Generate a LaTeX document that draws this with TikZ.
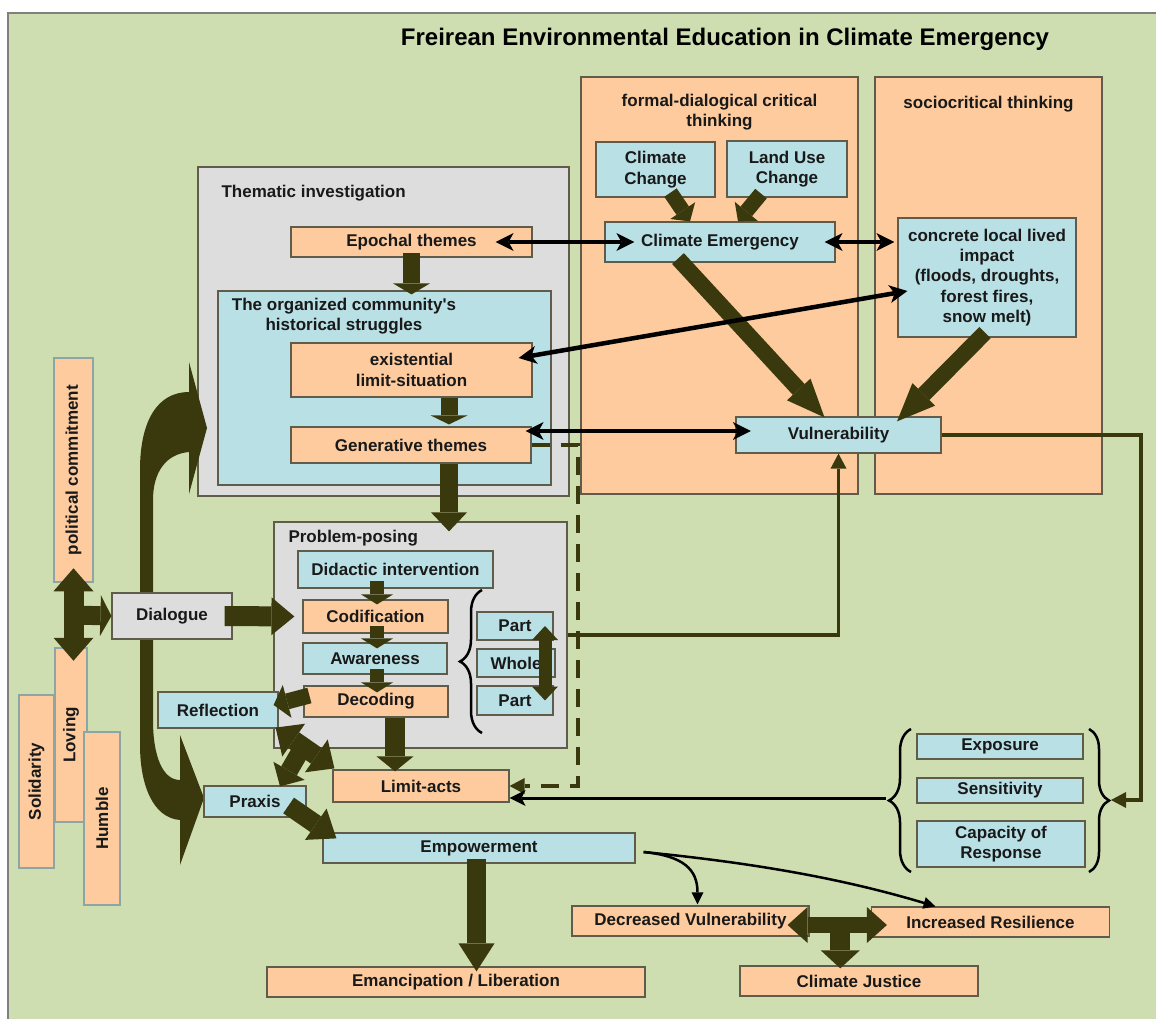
\documentclass[tikz,border=0pt]{standalone}
\usepackage{fontspec}
\setmainfont{Liberation Sans}
\usepackage{graphicx}
\usepackage{xcolor}
\usepackage{tikz}
\usetikzlibrary{arrows.meta, positioning, calc, decorations.pathreplacing}

\definecolor{bggreen}{RGB}{207,222,176}
\definecolor{boxorange}{RGB}{253,203,158}
\definecolor{boxblue}{RGB}{185,224,229}
\definecolor{boxgray}{RGB}{221,221,221}
\definecolor{edgegray}{RGB}{95,92,75}
\definecolor{olive}{RGB}{58,57,14}
\definecolor{pillaredge}{RGB}{140,165,165}

\begin{document}
\begin{tikzpicture}[x=1pt, y=-1pt,
    txt/.style={font=\fontsize{17}{20.3}\selectfont\bfseries, text=black!90},
    box/.style={txt, draw=edgegray, line width=1.2pt, inner sep=0pt, align=center},
    obox/.style={box, fill=boxorange},
    bbox/.style={box, fill=boxblue},
    gbox/.style={box, fill=boxgray},
    pillar/.style={txt, draw=pillaredge, line width=2.5pt, fill=boxorange, inner sep=0pt},
    blockarrow/.style n args={3}{draw=olive, line width=#1, -{Triangle[width=#2, length=#3, line width=0pt]}},
    blockboth/.style n args={3}{draw=olive, line width=#1, {Triangle[width=#2, length=#3, line width=0pt]}-{Triangle[width=#2, length=#3, line width=0pt]}},
    blackboth/.style={draw=black, line width=4.5pt, {Stealth[length=18pt, width=18pt, inset=5pt, line width=0pt]}-{Stealth[length=18pt, width=18pt, inset=5pt, line width=0pt]}},
    blackline/.style={draw=black, line width=3pt, -{Stealth[length=16pt, width=16pt, inset=4pt, line width=0pt]}},
    oliveline/.style={draw=olive, line width=3.5pt, -{Triangle[length=15pt, width=16pt, line width=0pt]}},
    thinarrow/.style={draw=black, line width=2.5pt, -{Triangle[length=12pt, width=12pt, line width=0pt]}},
    bracket/.style={draw=black, line width=2.5pt, decorate, decoration={brace, amplitude=#1}}
]
    \useasboundingbox (0,0) rectangle (1156,1019);
    \fill[white] (0,0) rectangle (1156,1019);
    \fill[bggreen] (8,13) rectangle (1156,1019);
    \draw[gray, line width=2pt] (8,1019) -- (8,13) -- (1156,13);

    \node[font=\fontsize{24}{28}\selectfont\bfseries] (title) at (725,39) {Freirean Environmental Education in Climate Emergency};

    % critical thinking columns
    \node[obox, minimum width=277pt, minimum height=417pt] (formal) at (719.5,285.5) {};
    \node[obox, minimum width=227pt, minimum height=417pt] (socio) at (988.5,285.5) {};
    \node[txt, align=center] (formallabel) at (719.5,112) {formal-dialogical critical\\thinking};
    \node[txt] (sociolabel) at (988.5,104) {sociocritical thinking};
    \node[bbox, minimum width=119pt, minimum height=55pt] (climchange) at (655.5,169.5) {Climate\\Change};
    \node[bbox, minimum width=120pt, minimum height=56pt] (landuse) at (787,169) {Land Use\\Change};
    \node[bbox, minimum width=230pt, minimum height=40pt] (climemerg) at (720,242) {Climate Emergency};
    \node[bbox, minimum width=178pt, minimum height=119pt] (concrete) at (987,277.5) {concrete local lived\\impact\\(floods, droughts,\\forest fires,\\snow melt)};
    \node[bbox, minimum width=205pt, minimum height=36pt] (vuln) at (838.5,435) {Vulnerability};

    % thematic investigation
    \node[gbox, minimum width=371pt, minimum height=329pt] (thematic) at (383.5,331.5) {};
    \node[txt, anchor=west] (thematiclabel) at (218,193) {Thematic investigation};
    \node[obox, minimum width=241pt, minimum height=30pt] (epochal) at (411.5,242) {Epochal themes};
    \node[bbox, minimum width=333pt, minimum height=194pt] (community) at (384.5,388) {};
    \node[txt, align=center] (communitylabel) at (344,316) {The organized community\textquotesingle s\\historical struggles};
    \node[obox, minimum width=241pt, minimum height=54pt] (existential) at (411.5,370) {existential\\limit-situation};
    \node[obox, minimum width=240pt, minimum height=36pt] (generative) at (411,445) {Generative themes};

    % problem-posing
    \node[gbox, minimum width=293pt, minimum height=226pt] (problem) at (420.5,635) {};
    \node[txt, anchor=west] (problemlabel) at (285,538) {Problem-posing};
    \node[bbox, minimum width=195pt, minimum height=37pt] (didactic) at (395.5,569.5) {Didactic intervention};
    \node[obox, minimum width=145pt, minimum height=33pt] (codification) at (375.5,616.5) {Codification};
    \node[bbox, minimum width=144pt, minimum height=31pt] (awareness) at (375,658.5) {Awareness};
    \node[obox, minimum width=144pt, minimum height=31pt] (decoding) at (376,701.5) {Decoding};
    \node[bbox, minimum width=76pt, minimum height=28pt] (part1) at (515,626) {Part};
    \node[bbox, minimum width=78pt, minimum height=28pt] (whole) at (516,663) {Whole};
    \node[bbox, minimum width=76pt, minimum height=29pt] (part2) at (515,700.5) {Part};

    % attitudes
    \node[pillar, minimum width=39pt, minimum height=224pt] (political) at (73.5,470) {\rotatebox{90}{political commitment}};
    \node[pillar, minimum width=35pt, minimum height=173pt] (solidarity) at (36.5,781.5) {\rotatebox{90}{Solidarity}};
    \node[pillar, minimum width=32pt, minimum height=174pt] (loving) at (71,735) {\rotatebox{90}{Loving}};
    \node[pillar, minimum width=36pt, minimum height=173pt] (humble) at (102,818.5) {\rotatebox{90}{Humble}};

    \fill[olive] (207,428) -- (189,494) -- (189,452) .. controls (166,454) and (153,472) .. (153,500)
        -- (153,720) .. controls (153,757) and (163,780) .. (180,780) -- (180,735) -- (204,798)
        -- (180,865) -- (180,820) .. controls (153,818) and (140,785) .. (140,745)
        -- (140,470) .. controls (140,420) and (158,392) .. (189,392) -- (189,362) -- cycle;

    \node[gbox, minimum width=120pt, minimum height=46pt] (dialogue) at (172,616) {Dialogue};
    \node[bbox, minimum width=120pt, minimum height=36pt] (reflection) at (218,710) {Reflection};
    \node[bbox, minimum width=102pt, minimum height=31pt] (praxis) at (255,801.5) {Praxis};
    \node[obox, minimum width=176pt, minimum height=32pt] (limitacts) at (421,786) {Limit-acts};
    \node[bbox, minimum width=312pt, minimum height=30pt] (empowerment) at (479,848) {Empowerment};
    \node[obox, minimum width=378pt, minimum height=30pt] (emancipation) at (456,982) {Emancipation / Liberation};
    \node[obox, minimum width=237pt, minimum height=30pt] (decreased) at (690.5,921) {Decreased Vulnerability};
    \node[obox, minimum width=238pt, minimum height=30pt] (increased) at (990.5,922) {Increased Resilience};
    \node[obox, minimum width=238pt, minimum height=30pt] (justice) at (859,981) {Climate Justice};

    % vulnerability components
    \node[bbox, minimum width=166pt, minimum height=25pt] (exposure) at (1000,746.5) {Exposure};
    \node[bbox, minimum width=166pt, minimum height=25pt] (sensitivity) at (1000,790.5) {Sensitivity};
    \node[bbox, minimum width=168pt, minimum height=46pt] (capacity) at (1001,844) {Capacity of\\Response};

    \draw[bracket=22pt] (482,733) -- (482,590);
    \draw[bracket=22pt] (911,872) -- (911,729);
    \draw[bracket=20pt] (1089,729) -- (1089,872);
    \coordinate (bracel) at (886,798);
    \coordinate (bracer) at (1111,800);
    \coordinate (vcorner) at (1141,800);
    \coordinate (dcorner) at (578,786);

    % connectors
    \draw[oliveline] (vuln.east) -| (vcorner) -- (bracer);
    \draw[oliveline] (problem.east) -| (vuln.south);
    \draw[oliveline, line width=4.5pt, dash pattern=on 18pt off 11pt] (generative.east) -| (dcorner) -- (limitacts.east);
    \draw[blackline] (bracel) -- (bracel -| limitacts.east);

    \draw[blockarrow={15pt}{30pt}{13pt}] ($(climchange.south)+(15,-5)$) -- ($(climemerg.north)+(-30,0)$);
    \draw[blockarrow={15pt}{30pt}{13pt}] ($(landuse.south)+(-26,-4)$) -- ($(climemerg.north)+(18,0)$);
    \draw[blockarrow={16pt}{32pt}{38pt}] ($(climemerg.south)+(-42,-4)$) -- ($(vuln.north)+(-14,1)$);
    \draw[blockarrow={16pt}{32pt}{38pt}] ($(concrete.south)+(-2,-5)$) -- ($(vuln.north)+(58.5,5)$);

    \draw[blackboth] ($(epochal.east)+(-37,0)$) -- ($(climemerg.west)+(30,0)$);
    \draw[blackboth] ($(climemerg.east)+(-11,0)$) -- ($(climemerg.east -| concrete.west)+(-3,0)$);
    \draw[blackboth] ($(concrete.west)+(10,13.5)$) -- ($(existential.east)+(-14,-12)$);
    \draw[blackboth] ($(generative.east)+(-6,-14)$) -- ($(vuln.west)+(15.5,-4)$);

    \draw[blockarrow={17pt}{37pt}{11pt}] ($(epochal.south)+(0,-5)$) -- ($(community.north)+(27,4)$);
    \draw[blockarrow={17pt}{37pt}{9pt}] ($(existential.south)+(37.5,0)$) -- ($(generative.north)+(38,-2)$);
    \draw[blockarrow={18pt}{36pt}{19pt}] ($(generative.south)+(38,0)$) -- ($(problem.north)+(28.5,10)$);
    \draw[blockarrow={20pt}{38pt}{23pt}] ($(dialogue.east)+(-8,0)$) -- ($(codification.west)+(-8,0)$);
    \draw[blockarrow={14pt}{32pt}{10pt}] ($(didactic.south)+(-18.5,-8)$) -- ($(codification.north)+(1.5,5)$);
    \draw[blockarrow={14pt}{32pt}{10pt}] ($(codification.south)+(1.5,-8)$) -- ($(awareness.north)+(2,6)$);
    \draw[blockarrow={14pt}{32pt}{10pt}] ($(awareness.south)+(2,-6)$) -- ($(decoding.north)+(1,7)$);
    \draw[blockboth={13pt}{26pt}{14pt}] ($(part1.center)+(30,0)$) -- ($(part2.center)+(30,0)$);

    \draw[blockboth={20pt}{40pt}{23pt}] ($(political.south)+(0,-15)$) -- ($(political.south |- loving.north)+(0,14)$);
    \coordinate (crossc) at ($(political.south)!0.5!(political.south |- loving.north)$);
    \draw[blockarrow={19pt}{41pt}{11pt}] (crossc) -- (dialogue.west);

    \draw[blockarrow={16pt}{34pt}{14pt}] ($(decoding.west)+(6,-6)$) -- ($(reflection.east)+(-5,-5)$);
    \draw[blockarrow={20pt}{37pt}{15pt}] ($(decoding.south)+(19,0)$) -- ($(limitacts.north)+(-26,2)$);
    \draw[blockboth={19pt}{40pt}{22pt}] ($(reflection.south east)+(-3,-1)$) -- ($(limitacts.north west)+(2,-1)$);
    \coordinate (rlmid) at ($(reflection.south east)!0.45!(limitacts.north west)$);
    \draw[blockarrow={18pt}{36pt}{18pt}] (rlmid) -- ($(praxis.north)+(25,1)$);
    \draw[blockarrow={19pt}{38pt}{25pt}] ($(praxis.east)+(-18,4)$) -- ($(empowerment.north west)+(14,6)$);
    \draw[blockarrow={19pt}{36pt}{28pt}] ($(empowerment.south)+(-2.5,-5)$) -- ($(emancipation.north)+(20.5,5)$);

    \draw[thinarrow] ($(empowerment.east)+(8,4)$) .. controls +(40,4) and +(0,-35) .. ($(decreased.north)+(7,-1)$);
    \draw[thinarrow] ($(empowerment.east)+(8,4)$) .. controls +(100,10) and +(-100,-30) .. ($(increased.north)+(-55,0)$);
    \draw[blockboth={16pt}{36pt}{20pt}] ($(decreased.east)+(-22,4)$) -- ($(increased.west)+(16,3)$);
    \coordinate (tmid) at ($(decreased.east)!0.5!(increased.west)+(0,4)$);
    \draw[blockarrow={20pt}{39pt}{18pt}] (tmid) -- ($(tmid |- justice.north)+(0,3)$);
\end{tikzpicture}
\end{document}
